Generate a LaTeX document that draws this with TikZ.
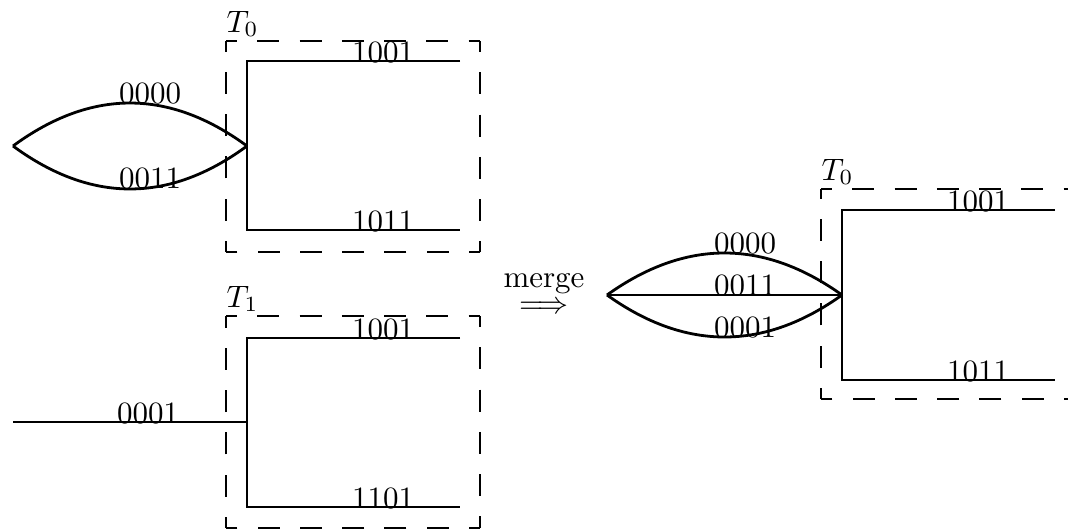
\documentclass[tikz,border=0pt]{standalone}
\begin{document}
\begin{tikzpicture}[
  x=0.3226pt, y=-0.3226pt,
  edge/.style={line width=0.9pt},
  boxside/.style={line width=0.9pt, dash pattern=on 7.1pt off 6.54pt, dash phase=3.55pt},
  lbl/.style={anchor=base, inner sep=0pt, font=\normalsize},
  tname/.style={anchor=base west, inner sep=0pt}
]
\clip (0,0) rectangle (1068,530);

% ---------- subtree T_0 (left, top) ----------
\coordinate (a0) at (13,146);
\coordinate (r0) at (247,146);
\coordinate (r0t) at (247,61);
\coordinate (r0b) at (247,230);
\coordinate (l0t) at (460,61);
\coordinate (l0b) at (460,230);
\draw[edge] (a0) .. controls (91,88.7) and (169,88.7) .. (r0);
\draw[edge] (a0) .. controls (91,203.3) and (169,203.3) .. (r0);
\draw[edge] (l0t) -- (r0t) -- (r0b) -- (l0b);
\coordinate (b0a) at (226,41);
\coordinate (b0b) at (480,41);
\coordinate (b0c) at (480,252);
\coordinate (b0d) at (226,252);
\draw[boxside] (b0a) -- (b0b);
\draw[boxside] (b0b) -- (b0c);
\draw[boxside] (b0c) -- (b0d);
\draw[boxside] (b0d) -- (b0a);
\node[tname] (t0) at (226,32) {$T_0$};
\node[lbl] (e00) at (150,103) {0000};
\node[lbl] (e01) at (150,188) {0011};
\node[lbl] (e02) at (383,62) {1001};
\node[lbl] (e03) at (383,231) {1011};

% ---------- subtree T_1 (left, bottom) ----------
\coordinate (a1) at (13,422);
\coordinate (r1) at (247,422);
\coordinate (r1t) at (247,338);
\coordinate (r1b) at (247,507);
\coordinate (l1t) at (460,338);
\coordinate (l1b) at (460,507);
\draw[edge] (a1) -- (r1);
\draw[edge] (l1t) -- (r1t) -- (r1b) -- (l1b);
\coordinate (b1a) at (226,316);
\coordinate (b1b) at (480,316);
\coordinate (b1c) at (480,528);
\coordinate (b1d) at (226,528);
\draw[boxside] (b1a) -- (b1b);
\draw[boxside] (b1b) -- (b1c);
\draw[boxside] (b1c) -- (b1d);
\draw[boxside] (b1d) -- (b1a);
\node[tname] (t1) at (226,307) {$T_1$};
\node[lbl] (e10) at (148,423) {0001};
\node[lbl] (e11) at (383,339) {1001};
\node[lbl] (e12) at (383,508) {1101};

% ---------- merge arrow ----------
\node[lbl] (mg) at (544,287) {merge};
\node[inner sep=0pt] (mgarrow) at (544,308) {$\Longrightarrow$};

% ---------- merged subtree T_0 (right) ----------
\coordinate (a2) at (607,295);
\coordinate (r2) at (842,295);
\coordinate (r2t) at (842,210);
\coordinate (r2b) at (842,380);
\coordinate (l2t) at (1055,210);
\coordinate (l2b) at (1055,380);
\draw[edge] (a2) .. controls (685.3,239) and (763.7,239) .. (r2);
\draw[edge] (a2) -- (r2);
\draw[edge] (a2) .. controls (685.3,351) and (763.7,351) .. (r2);
\draw[edge] (l2t) -- (r2t) -- (r2b) -- (l2b);
\coordinate (b2a) at (821,189);
\coordinate (b2b) at (1075,189);
\coordinate (b2c) at (1075,399);
\coordinate (b2d) at (821,399);
\draw[boxside] (b2a) -- (b2b);
\draw[boxside] (b2b) -- (b2c);
\draw[boxside] (b2c) -- (b2d);
\draw[boxside] (b2d) -- (b2a);
\node[tname] (t2) at (821,180) {$T_0$};
\node[lbl] (e20) at (745,253) {0000};
\node[lbl] (e21) at (745,295) {0011};
\node[lbl] (e22) at (745,337) {0001};
\node[lbl] (e23) at (978,211) {1001};
\node[lbl] (e24) at (978,381) {1011};
\end{tikzpicture}
\end{document}
